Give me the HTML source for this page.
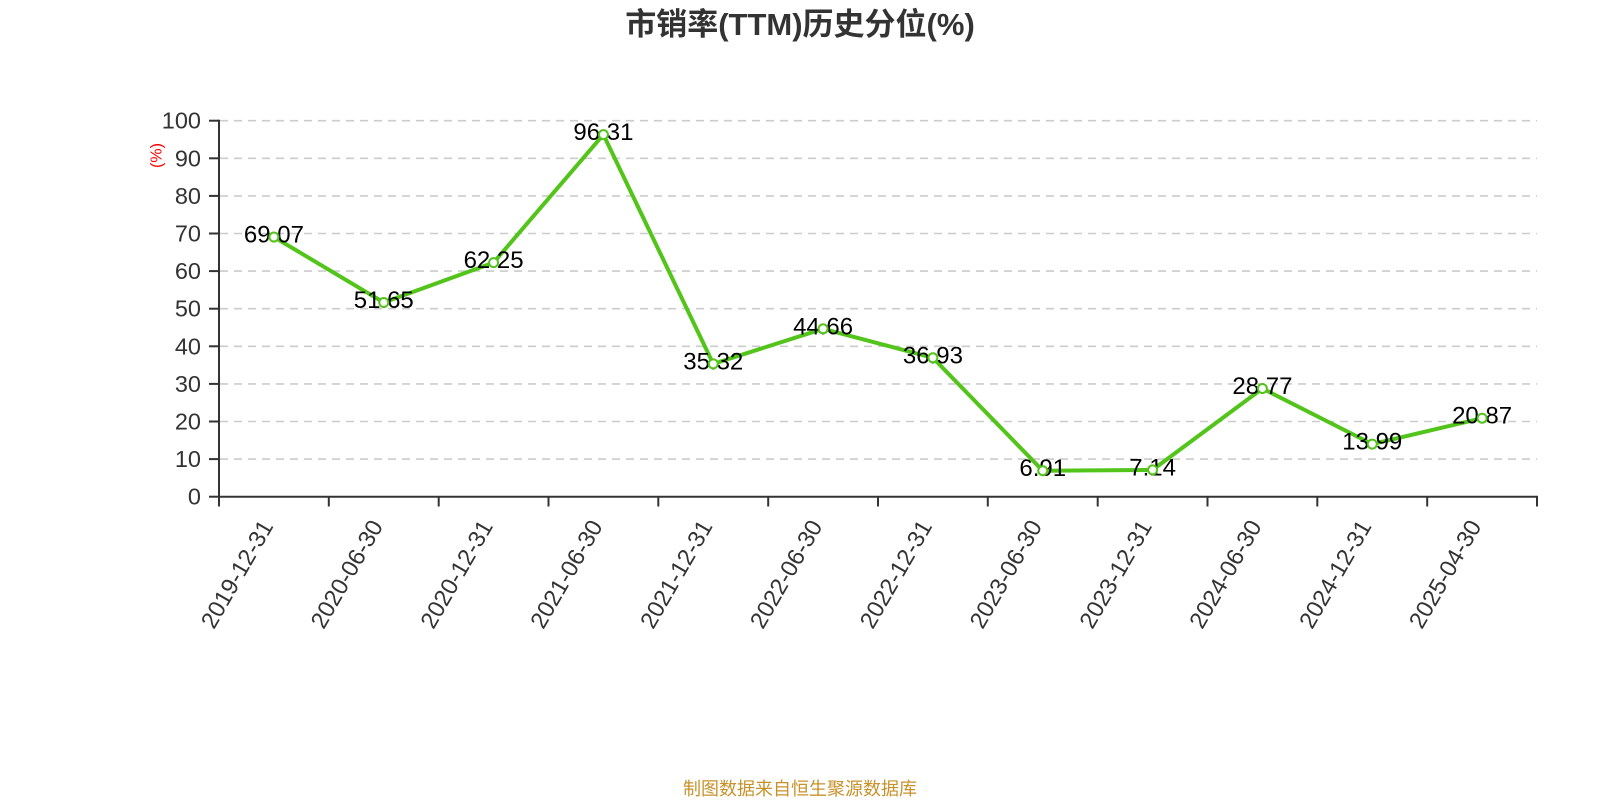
<!DOCTYPE html>
<html>
<head>
<meta charset="utf-8">
<style>
  html, body { margin: 0; padding: 0; background: #ffffff; }
  svg { display: block; }
  text { font-family: "Liberation Sans", "Noto Sans CJK SC", sans-serif; }
</style>
</head>
<body>
<svg width="1600" height="800" viewBox="0 0 1600 800" xmlns="http://www.w3.org/2000/svg">
  <rect x="0" y="0" width="1600" height="800" fill="#ffffff"/>

  <!-- Title -->
  <text x="800" y="35" text-anchor="middle" font-size="31" font-weight="bold" fill="#333333">市销率(TTM)历史分位(%)</text>

  <!-- Grid lines -->
  <g stroke="#cccccc" stroke-width="1.6" stroke-dasharray="8,6" fill="none">
    <line x1="220" y1="459.1" x2="1537" y2="459.1"/>
    <line x1="220" y1="421.5" x2="1537" y2="421.5"/>
    <line x1="220" y1="383.9" x2="1537" y2="383.9"/>
    <line x1="220" y1="346.3" x2="1537" y2="346.3"/>
    <line x1="220" y1="308.7" x2="1537" y2="308.7"/>
    <line x1="220" y1="271.1" x2="1537" y2="271.1"/>
    <line x1="220" y1="233.5" x2="1537" y2="233.5"/>
    <line x1="220" y1="195.9" x2="1537" y2="195.9"/>
    <line x1="220" y1="158.3" x2="1537" y2="158.3"/>
    <line x1="220" y1="120.7" x2="1537" y2="120.7"/>
  </g>

  <!-- Y axis -->
  <g stroke="#333333" stroke-width="2" fill="none">
    <line x1="219" y1="119.7" x2="219" y2="497.7"/>
    <line x1="209" y1="496.7" x2="219" y2="496.7"/>
    <line x1="209" y1="459.1" x2="219" y2="459.1"/>
    <line x1="209" y1="421.5" x2="219" y2="421.5"/>
    <line x1="209" y1="383.9" x2="219" y2="383.9"/>
    <line x1="209" y1="346.3" x2="219" y2="346.3"/>
    <line x1="209" y1="308.7" x2="219" y2="308.7"/>
    <line x1="209" y1="271.1" x2="219" y2="271.1"/>
    <line x1="209" y1="233.5" x2="219" y2="233.5"/>
    <line x1="209" y1="195.9" x2="219" y2="195.9"/>
    <line x1="209" y1="158.3" x2="219" y2="158.3"/>
    <line x1="209" y1="120.7" x2="219" y2="120.7"/>
  </g>
  <g font-size="23.5" fill="#333333" text-anchor="end" dominant-baseline="central">
    <text x="201" y="496.7">0</text>
    <text x="201" y="459.1">10</text>
    <text x="201" y="421.5">20</text>
    <text x="201" y="383.9">30</text>
    <text x="201" y="346.3">40</text>
    <text x="201" y="308.7">50</text>
    <text x="201" y="271.1">60</text>
    <text x="201" y="233.5">70</text>
    <text x="201" y="195.9">80</text>
    <text x="201" y="158.3">90</text>
    <text x="201" y="120.7">100</text>
  </g>
  <text x="157" y="155.5" font-size="16" fill="#ff0000" text-anchor="middle" dominant-baseline="central" transform="rotate(-90 157 155.5)">(%)</text>

  <!-- X axis -->
  <g stroke="#333333" stroke-width="2" fill="none">
    <line x1="218" y1="496.7" x2="1538" y2="496.7"/>
    <line x1="219" y1="496.7" x2="219" y2="506.5"/>
    <line x1="328.8" y1="496.7" x2="328.8" y2="506.5"/>
    <line x1="438.7" y1="496.7" x2="438.7" y2="506.5"/>
    <line x1="548.5" y1="496.7" x2="548.5" y2="506.5"/>
    <line x1="658.3" y1="496.7" x2="658.3" y2="506.5"/>
    <line x1="768.2" y1="496.7" x2="768.2" y2="506.5"/>
    <line x1="878" y1="496.7" x2="878" y2="506.5"/>
    <line x1="987.8" y1="496.7" x2="987.8" y2="506.5"/>
    <line x1="1097.7" y1="496.7" x2="1097.7" y2="506.5"/>
    <line x1="1207.5" y1="496.7" x2="1207.5" y2="506.5"/>
    <line x1="1317.3" y1="496.7" x2="1317.3" y2="506.5"/>
    <line x1="1427.2" y1="496.7" x2="1427.2" y2="506.5"/>
    <line x1="1537" y1="496.7" x2="1537" y2="506.5"/>
  </g>
  <g font-size="23.5" fill="#333333" text-anchor="end" dominant-baseline="central">
    <text x="267" y="522" transform="rotate(-60 267 522)">2019-12-31</text>
    <text x="376.8" y="522" transform="rotate(-60 376.8 522)">2020-06-30</text>
    <text x="486.6" y="522" transform="rotate(-60 486.6 522)">2020-12-31</text>
    <text x="596.4" y="522" transform="rotate(-60 596.4 522)">2021-06-30</text>
    <text x="706.3" y="522" transform="rotate(-60 706.3 522)">2021-12-31</text>
    <text x="816.1" y="522" transform="rotate(-60 816.1 522)">2022-06-30</text>
    <text x="925.9" y="522" transform="rotate(-60 925.9 522)">2022-12-31</text>
    <text x="1035.8" y="522" transform="rotate(-60 1035.8 522)">2023-06-30</text>
    <text x="1145.6" y="522" transform="rotate(-60 1145.6 522)">2023-12-31</text>
    <text x="1255.4" y="522" transform="rotate(-60 1255.4 522)">2024-06-30</text>
    <text x="1365.3" y="522" transform="rotate(-60 1365.3 522)">2024-12-31</text>
    <text x="1475.1" y="522" transform="rotate(-60 1475.1 522)">2025-04-30</text>
  </g>

  <!-- Series line -->
  <polyline fill="none" stroke="#52c41a" stroke-width="4" stroke-linejoin="round" stroke-linecap="round"
    points="273.9,237.0 383.75,302.5 493.6,262.6 603.4,134.6 713.25,363.9 823.1,328.8 932.9,357.8 1042.75,470.7 1152.6,469.9 1262.4,388.5 1372.25,444.1 1482.1,418.2"/>

  <!-- Data labels -->
  <g font-size="24" fill="#000000" text-anchor="middle" dominant-baseline="central">
    <text x="273.9" y="235">69.07</text>
    <text x="383.75" y="300.5">51.65</text>
    <text x="493.6" y="260.6">62.25</text>
    <text x="603.4" y="132.6">96.31</text>
    <text x="713.25" y="361.9">35.32</text>
    <text x="823.1" y="326.8">44.66</text>
    <text x="932.9" y="355.8">36.93</text>
    <text x="1042.75" y="468.7">6.91</text>
    <text x="1152.6" y="467.9">7.14</text>
    <text x="1262.4" y="386.5">28.77</text>
    <text x="1372.25" y="442.1">13.99</text>
    <text x="1482.1" y="416.2">20.87</text>
  </g>

  <!-- Markers -->
  <g fill="#ffffff" stroke="#52c41a" stroke-width="2">
    <circle cx="273.9" cy="237.0" r="4.5"/>
    <circle cx="383.75" cy="302.5" r="4.5"/>
    <circle cx="493.6" cy="262.6" r="4.5"/>
    <circle cx="603.4" cy="134.6" r="4.5"/>
    <circle cx="713.25" cy="363.9" r="4.5"/>
    <circle cx="823.1" cy="328.8" r="4.5"/>
    <circle cx="932.9" cy="357.8" r="4.5"/>
    <circle cx="1042.75" cy="470.7" r="4.5"/>
    <circle cx="1152.6" cy="469.9" r="4.5"/>
    <circle cx="1262.4" cy="388.5" r="4.5"/>
    <circle cx="1372.25" cy="444.1" r="4.5"/>
    <circle cx="1482.1" cy="418.2" r="4.5"/>
  </g>

  <!-- Footer -->
  <text x="800" y="795" text-anchor="middle" font-size="18" fill="#c8922b">制图数据来自恒生聚源数据库</text>
</svg>
</body>
</html>
